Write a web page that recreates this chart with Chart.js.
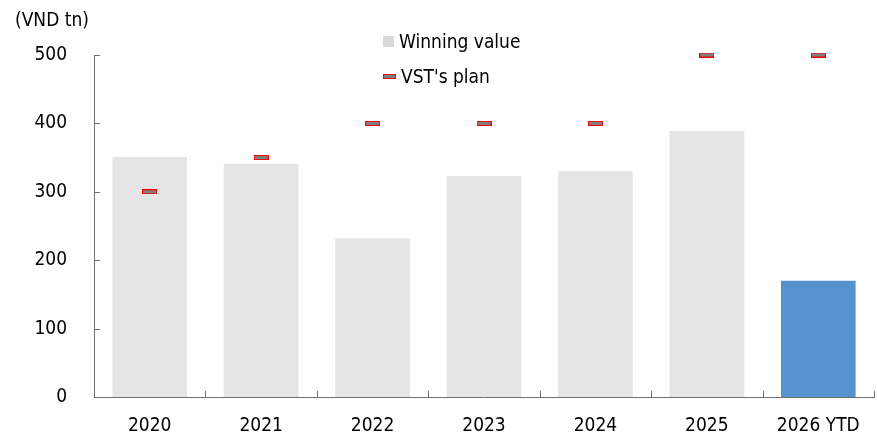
<!DOCTYPE html>
<html>
<head>
<meta charset="utf-8">
<script src="https://cdn.jsdelivr.net/npm/chart.js@4"></script>
<style>
  body { margin: 0; background: #fff; }
  #wrap { position: relative; width: 877px; height: 441px; font-family: "DejaVu Sans Condensed", "Liberation Sans", sans-serif; color: #000; }
  #unit { position: absolute; left: 15px; top: 8px; font-size: 19px; }
  .leg { position: absolute; left: 383px; font-size: 19px; line-height: 22px; }
  .leg span.m { display: inline-block; vertical-align: middle; margin-right: 5px; }
  #leg1 { top: 30px; }
  #leg2 { top: 65px; }
  #leg1 .m { width: 11px; height: 11px; background: #d9d9d9; margin-top: -3px; }
  #leg2 .m { width: 11px; height: 3px; background: #808080; border: 1px solid #ff0000; margin-top: -2px; }
</style>
</head>
<body>
<div id="wrap">
  <canvas id="c" width="877" height="441"></canvas>
  <div id="unit">(VND tn)</div>
  <div class="leg" id="leg1"><span class="m"></span>Winning value</div>
  <div class="leg" id="leg2"><span class="m"></span>VST's plan</div>
</div>
<script>
// Winning value vs VST's plan (VND tn)
const years = ['2020', '2021', '2022', '2023', '2024', '2025', '2026 YTD'];
const winningValue = [351, 341, 232, 323, 330, 389, 170];
const vstPlan = [300, 350, 400, 400, 400, 500, 500];
const yTicks = [0, 100, 200, 300, 400, 500];

const FONT = { family: '"DejaVu Sans Condensed", "Liberation Sans", sans-serif', size: 19 };
const AXIS = '#6e6e6e';

// red-edged dash used as the plan marker
const dash = document.createElement('canvas');
dash.width = 15; dash.height = 5;
const dctx = dash.getContext('2d');
dctx.fillStyle = '#ff0000';
dctx.fillRect(0, 0, 15, 5);
dctx.fillStyle = '#808080';
dctx.fillRect(1, 1, 13, 3);

// ticks pointing inward, like the original
const innerTicks = {
  id: 'innerTicks',
  afterDraw(chart) {
    const { ctx, scales: { x, y }, chartArea: a } = chart;
    ctx.save();
    ctx.strokeStyle = AXIS;
    ctx.lineWidth = 1;
    ctx.beginPath();
    yTicks.forEach(v => {
      const py = Math.round(y.getPixelForValue(v)) + 0.5;
      ctx.moveTo(a.left, py);
      ctx.lineTo(a.left + 6, py);
    });
    for (let i = 0; i <= years.length; i++) {
      let px;
      if (i === 0) px = a.left;
      else if (i === years.length) px = a.right;
      else px = (x.getPixelForValue(i - 1) + x.getPixelForValue(i)) / 2;
      px = Math.round(px) + 0.5;
      ctx.moveTo(px, a.bottom);
      ctx.lineTo(px, a.bottom - 6);
    }
    ctx.stroke();
    ctx.restore();
  }
};

new Chart(document.getElementById('c'), {
  data: {
    labels: years,
    datasets: [
      {
        type: 'line',
        label: "VST's plan",
        data: vstPlan,
        showLine: false,
        pointStyle: dash,
        pointRadius: 7,
        clip: false,
        order: 0
      },
      {
        type: 'bar',
        label: 'Winning value',
        data: winningValue,
        backgroundColor: winningValue.map((_, i) => i === years.length - 1 ? '#5692cd' : '#e5e5e5'),
        borderWidth: 0,
        barPercentage: 0.67,
        categoryPercentage: 1,
        order: 1
      }
    ]
  },
  options: {
    responsive: false,
    animation: false,
    layout: { autoPadding: false, padding: { top: 55, right: 3, left: 0, bottom: 0 } },
    plugins: { legend: { display: false }, tooltip: { enabled: false } },
    scales: {
      x: {
        offset: true,
        grid: { display: false, drawTicks: false },
        border: { display: true, color: AXIS, width: 1 },
        ticks: { color: '#000', font: FONT, padding: 18, maxRotation: 0 },
        afterFit: s => { s.height = 44; s.paddingLeft = 0; s.paddingRight = 0; }
      },
      y: {
        min: 0,
        max: 500,
        afterBuildTicks: s => { s.ticks = yTicks.map(v => ({ value: v })); },
        grid: { display: false, drawTicks: false },
        border: { display: true, color: AXIS, width: 1 },
        ticks: { color: '#000', font: FONT, padding: 27 },
        afterFit: s => { s.width = 94; }
      }
    }
  },
  plugins: [innerTicks]
});
</script>
</body>
</html>
